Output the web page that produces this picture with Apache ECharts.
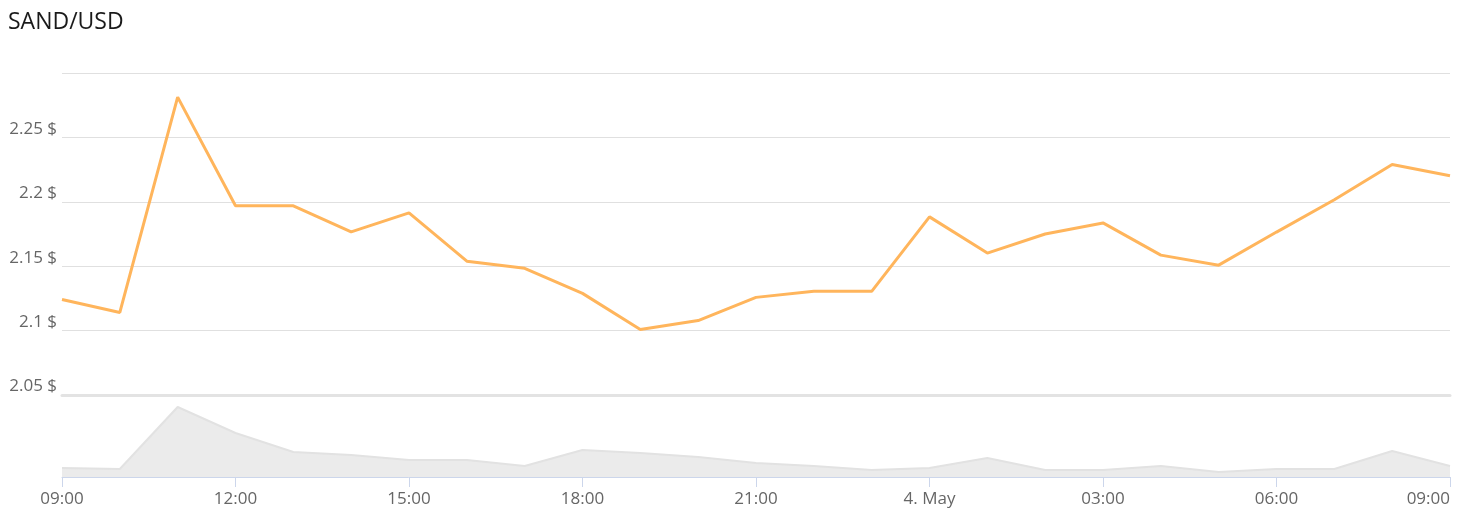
<!DOCTYPE html>
<html>
<head>
<meta charset="utf-8">
<script src="https://cdn.jsdelivr.net/npm/echarts@6/dist/echarts.min.js"></script>
<style>
html,body{margin:0;padding:0;background:#fff;}
#c{width:1472px;height:513px;}
</style>
</head>
<body>
<div id="c"></div>
<script>
const categories = ["09:00","10:00","11:00","12:00","13:00","14:00","15:00","16:00","17:00","18:00","19:00","20:00","21:00","22:00","23:00","4. May","01:00","02:00","03:00","04:00","05:00","06:00","07:00","08:00","09:00"];
const priceValues = [2.1242,2.1141,2.2813,2.1969,2.1969,2.1766,2.1914,2.1539,2.1484,2.1289,2.1008,2.1078,2.1258,2.1305,2.1305,2.1883,2.1602,2.1750,2.1836,2.1586,2.1508,2.1765,2.2016,2.2289,2.2203];
const volumeValues = [9,8,70,44,25,22,17,17,11,27,24,20,14,11,7,9,19,7,7,11,5,8,8,26,11];
const priceTicks = [2.05,2.1,2.15,2.2,2.25,2.3];

const chart = echarts.init(document.getElementById('c'));
const fontFamily = '"Open Sans", "DejaVu Sans", sans-serif';
chart.setOption({
  animation: false,
  backgroundColor: '#fff',
  title: {
    text: 'SAND/USD', left: 3, top: 6,
    textStyle: {fontFamily, fontSize: 23, fontWeight: 'normal', color: '#1a1a1a'}
  },
  grid: [
    {left: 62, right: 22, top: 73, height: 322},
    {left: 62, right: 22, top: 395, height: 82}
  ],
  xAxis: [
    {type: 'category', gridIndex: 0, data: categories, boundaryGap: false,
      axisLine: {show: true, lineStyle: {color: '#e3e3e3', width: 3}},
      axisTick: {show: false}, axisLabel: {show: false}, splitLine: {show: false}},
    {type: 'category', gridIndex: 1, data: categories, boundaryGap: false,
      axisLine: {show: true, lineStyle: {color: '#ccd6eb', width: 1}},
      axisTick: {show: true, interval: 2, length: 10, lineStyle: {color: '#ccd6eb'}},
      axisLabel: {interval: 2, color: '#666', fontFamily, fontSize: 17, margin: 14, alignMaxLabel: 'right'},
      splitLine: {show: false}}
  ],
  yAxis: [
    {type: 'value', gridIndex: 0, min: priceTicks[0], max: priceTicks[priceTicks.length-1], interval: 0.05,
      axisLine: {show: false}, axisTick: {show: false},
      axisLabel: {showMaxLabel: false, color: '#666', fontFamily, fontSize: 17, margin: 5, verticalAlign: 'bottom',
        formatter: v => (+v.toFixed(2)) + ' $'},
      splitLine: {lineStyle: {color: '#e0e0e0', width: 1}}},
    {type: 'value', gridIndex: 1, min: 0, max: 82,
      axisLine: {show: false}, axisTick: {show: false}, axisLabel: {show: false}, splitLine: {show: false}}
  ],
  series: [
    {type: 'line', xAxisIndex: 0, yAxisIndex: 0, data: priceValues, symbol: 'none',
      lineStyle: {color: '#ffb55c', width: 3}, z: 3},
    {type: 'line', xAxisIndex: 1, yAxisIndex: 1, data: volumeValues, symbol: 'none',
      lineStyle: {color: '#e2e2e2', width: 2}, areaStyle: {color: '#ebebeb', opacity: 1}}
  ]
});
</script>
</body>
</html>
